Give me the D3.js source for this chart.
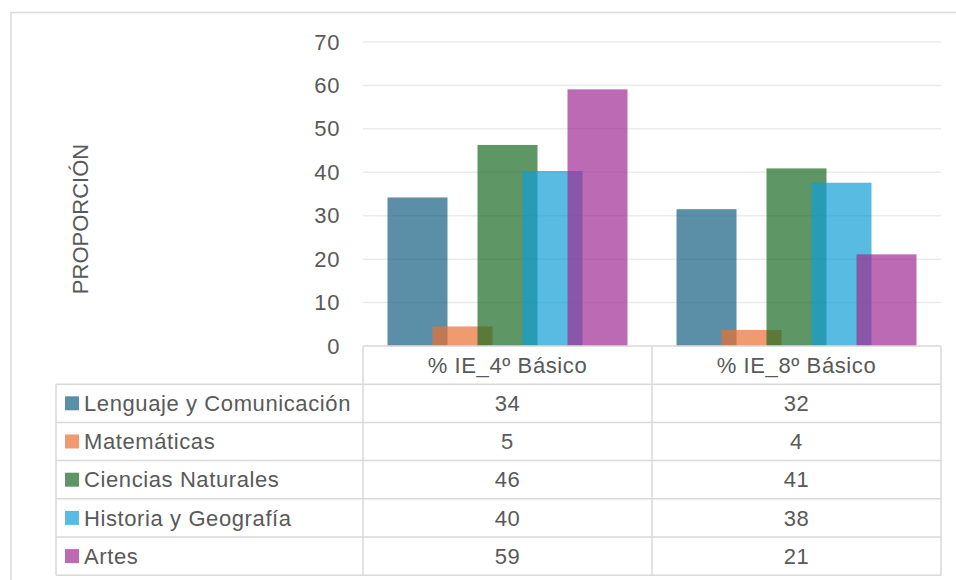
<!DOCTYPE html>
<html>
<head>
<meta charset="utf-8">
<script src="https://cdn.jsdelivr.net/npm/d3@7"></script>
<style>
  body { margin: 0; background: #fff; }
  svg text { font-family: "Liberation Sans", Arial, sans-serif; fill: #595959; }
</style>
</head>
<body>
<div id="chart"></div>
<script>
// Chart data
const categories = ['% IE_4º Básico', '% IE_8º Básico'];
const seriesNames = ['Lenguaje y Comunicación', 'Matemáticas', 'Ciencias Naturales', 'Historia y Geografía', 'Artes'];
const seriesColors = ['#156082', '#E97132', '#196B24', '#0F9ED5', '#A02B93'];
// one array per series, one value per category
const lenguaje = [34.2, 31.5];
const matematicas = [4.5, 3.7];
const ciencias = [46.3, 40.9];
const historia = [40.3, 37.6];
const artes = [59.1, 21.1];
const yTicks = [0, 10, 20, 30, 40, 50, 60, 70];
const axisTitle = 'PROPORCIÓN';

const seriesValues = [lenguaje, matematicas, ciencias, historia, artes];

const width = 956, height = 580;
const plot = { left: 363, right: 941, top: 42, bottom: 346 };
const tableLeft = 56;
const rowH = 38.2;
const fontSize = 22;
const spacing = '0.6px';
const gridColor = '#ebebeb';
const lineColor = '#d9d9d9';

const svg = d3.select('#chart')
    .append('svg')
    .attr('width', width)
    .attr('height', height);

// outer chart border (runs off the right and bottom of the picture)
svg.append('rect')
    .attr('x', 11)
    .attr('y', 12.5)
    .attr('width', 1000)
    .attr('height', 1000)
    .attr('fill', 'none')
    .attr('stroke', lineColor)
    .attr('stroke-width', 1.5);

const x = d3.scaleBand()
    .domain(categories)
    .range([plot.left, plot.right])
    .padding(0);

const y = d3.scaleLinear()
    .domain([0, 70])
    .range([plot.bottom, plot.top]);

// bars overlap by 25%
const barW = x.bandwidth() * 0.2076;
const step = barW * 0.75;
const spread = step * (seriesNames.length - 1);
const xs = d3.scalePoint()
    .domain(seriesNames)
    .range([-spread / 2, spread / 2]);

// gridlines
svg.append('g')
    .selectAll('line')
    .data(yTicks.filter(d => d > 0))
    .enter()
    .append('line')
    .attr('x1', plot.left)
    .attr('x2', plot.right)
    .attr('y1', d => y(d))
    .attr('y2', d => y(d))
    .attr('stroke', gridColor)
    .attr('stroke-width', 1.5);

// y axis labels
const yAxis = svg.append('g')
    .attr('transform', `translate(${plot.left - 23},0)`)
    .call(d3.axisLeft(y).tickValues(yTicks).tickSize(0).tickPadding(0));
yAxis.select('.domain').remove();
yAxis.selectAll('text')
    .attr('font-size', fontSize)
    .attr('font-family', null)
    .style('letter-spacing', spacing)
    .style('fill', '#595959');

// axis title
svg.append('text')
    .attr('transform', `translate(88,219) rotate(-90)`)
    .attr('text-anchor', 'middle')
    .attr('font-size', fontSize)
    .text(axisTitle);

// bars, drawn series by series so later series sit on top
seriesNames.forEach((name, i) => {
    svg.append('g')
        .selectAll('rect')
        .data(seriesValues[i])
        .enter()
        .append('rect')
        .attr('x', (d, j) => x(categories[j]) + x.bandwidth() / 2 + xs(name) - barW / 2)
        .attr('y', d => y(d))
        .attr('width', barW)
        .attr('height', d => y(0) - y(d))
        .attr('fill', seriesColors[i])
        .attr('fill-opacity', 0.7);
});

// data table
const table = svg.append('g');
const fmt = d3.format('.0f');
const tableBottom = plot.bottom + rowH * (seriesNames.length + 1);

// horizontal rules
table.append('line')
    .attr('x1', plot.left).attr('x2', plot.right)
    .attr('y1', plot.bottom).attr('y2', plot.bottom)
    .attr('stroke', lineColor).attr('stroke-width', 1.5);
d3.range(1, seriesNames.length + 2).forEach(r => {
    table.append('line')
        .attr('x1', tableLeft).attr('x2', plot.right)
        .attr('y1', plot.bottom + r * rowH).attr('y2', plot.bottom + r * rowH)
        .attr('stroke', lineColor).attr('stroke-width', 1.5);
});

// vertical rules
[plot.left, plot.left + x.bandwidth(), plot.right].forEach(vx => {
    table.append('line')
        .attr('x1', vx).attr('x2', vx)
        .attr('y1', plot.bottom).attr('y2', tableBottom)
        .attr('stroke', lineColor).attr('stroke-width', 1.5);
});
table.append('line')
    .attr('x1', tableLeft).attr('x2', tableLeft)
    .attr('y1', plot.bottom + rowH).attr('y2', tableBottom)
    .attr('stroke', lineColor).attr('stroke-width', 1.5);

// header
table.selectAll('.head')
    .data(categories)
    .enter()
    .append('text')
    .attr('class', 'head')
    .attr('x', d => x(d) + x.bandwidth() / 2)
    .attr('y', plot.bottom + rowH / 2)
    .attr('dy', '0.35em')
    .attr('text-anchor', 'middle')
    .attr('font-size', fontSize)
    .style('letter-spacing', spacing)
    .text(d => d);

// rows
seriesNames.forEach((name, i) => {
    const rowMid = plot.bottom + rowH * (i + 1) + rowH / 2;
    table.append('rect')
        .attr('x', 65)
        .attr('y', rowMid - 7)
        .attr('width', 14)
        .attr('height', 14)
        .attr('fill', seriesColors[i])
        .attr('fill-opacity', 0.7);
    table.append('text')
        .attr('x', 84)
        .attr('y', rowMid)
        .attr('dy', '0.35em')
        .attr('font-size', fontSize)
        .style('letter-spacing', spacing)
        .text(name);
    seriesValues[i].forEach((v, j) => {
        table.append('text')
            .attr('x', x(categories[j]) + x.bandwidth() / 2)
            .attr('y', rowMid)
            .attr('dy', '0.35em')
            .attr('text-anchor', 'middle')
            .attr('font-size', fontSize)
            .style('letter-spacing', spacing)
            .text(fmt(v));
    });
});
</script>
</body>
</html>
